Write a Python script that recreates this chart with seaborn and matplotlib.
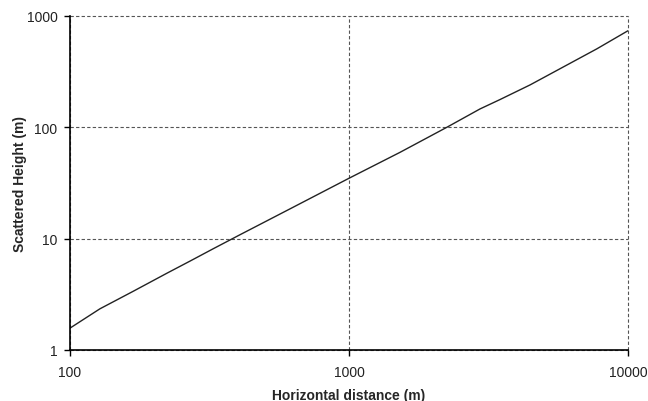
import matplotlib
matplotlib.use('Agg')
import matplotlib.pyplot as plt
import seaborn as sns
import pandas as pd
from matplotlib.ticker import FixedLocator, FixedFormatter, NullLocator

# Values
distance = [100, 128, 168, 223, 270, 326, 406, 615, 1000, 1524, 2245, 2950, 3475, 4460, 7740, 10000]
height = [1.57, 2.34, 3.35, 4.9, 6.3, 8.1, 10.8, 18.5, 34.8, 59.5, 100, 146, 177, 240, 506, 735]
x_ticks = [100, 1000, 10000]
y_ticks = [1, 10, 100, 1000]

df = pd.DataFrame({'distance': distance, 'height': height})

sns.set_theme(style='white')
plt.rcParams['font.family'] = ['Liberation Sans', 'DejaVu Sans']

fig = plt.figure(figsize=(6.48, 4.02), dpi=100)
ax = fig.add_axes([0.108, 0.127, 0.861, 0.831])

sns.lineplot(data=df, x='distance', y='height', ax=ax, color='#222222', linewidth=1.0)
ax.set_xscale('log')
ax.set_yscale('log')
ax.set_xlim(100, 10000)
ax.set_ylim(1, 1000)

ax.xaxis.set_major_locator(FixedLocator(x_ticks))
ax.xaxis.set_major_formatter(FixedFormatter([str(v) for v in x_ticks]))
ax.yaxis.set_major_locator(FixedLocator(y_ticks))
ax.yaxis.set_major_formatter(FixedFormatter([str(v) for v in y_ticks]))
ax.xaxis.set_minor_locator(NullLocator())
ax.yaxis.set_minor_locator(NullLocator())

ax.grid(True, which='major', linestyle=(0, (3, 2)), color='#555555', linewidth=0.8)
ax.set_axisbelow(True)
# keep the gridlines on the top and right edges visible
for gl in ax.get_xgridlines() + ax.get_ygridlines():
    gl.set_clip_on(False)

for side in ['top', 'right']:
    ax.spines[side].set_visible(False)
for side in ['left', 'bottom']:
    ax.spines[side].set_color('black')
    ax.spines[side].set_linewidth(1.2)

ax.tick_params(axis='both', which='major', direction='out', length=4, width=1,
               color='black', labelsize=10, labelcolor='#222222', bottom=True, left=True, pad=5)
ax.tick_params(axis='x', pad=7)

ax.set_xlabel('Horizontal distance (m)', fontsize=10, fontweight='bold', labelpad=6)
ax.set_ylabel('Scattered Height (m)', fontsize=10, fontweight='bold', labelpad=0)

fig.savefig('out.png', dpi=100)
